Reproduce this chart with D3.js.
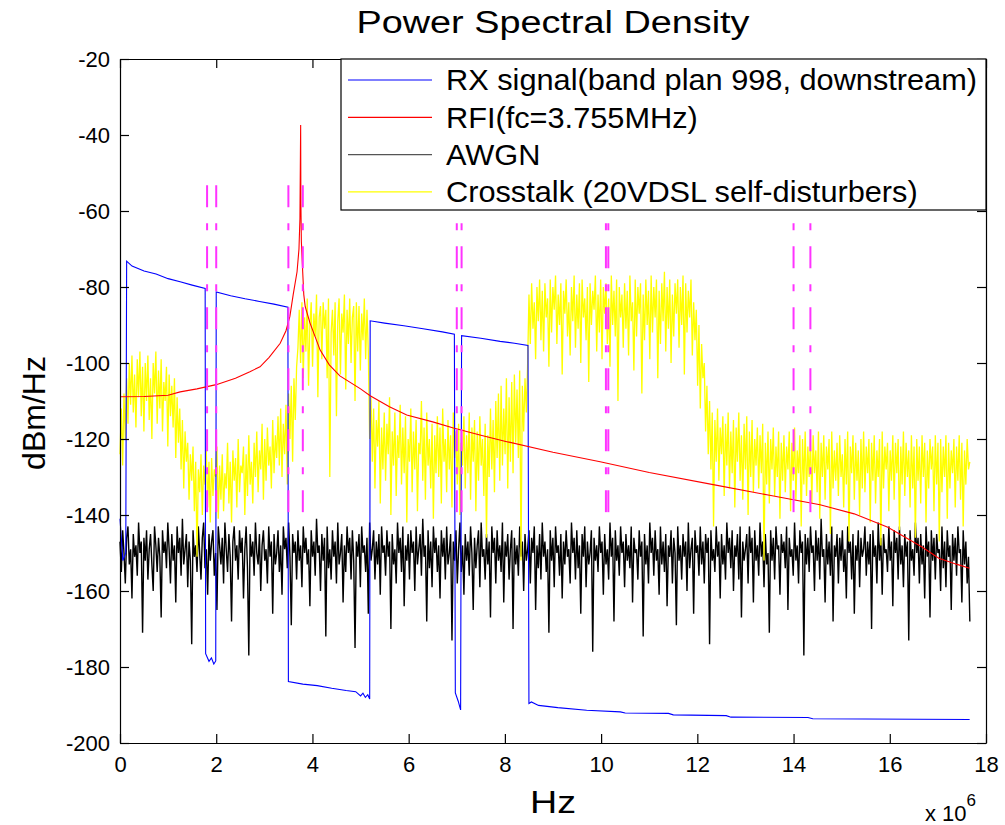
<!DOCTYPE html>
<html>
<head>
<meta charset="utf-8">
<script src="https://cdn.jsdelivr.net/npm/d3@7/dist/d3.min.js"></script>
<style>
  body { margin: 0; background: #fff; }
  text { font-family: "Liberation Sans", Arial, Helvetica, sans-serif; fill: #000; }
</style>
</head>
<body>
<svg width="1005" height="825"></svg>
<script>
// ---- data (frequency in MHz, PSD in dBm/Hz) ----
const xTicks = [0, 2, 4, 6, 8, 10, 12, 14, 16, 18];
const yTicks = [-20, -40, -60, -80, -100, -120, -140, -160, -180, -200];

// RX signal, band plan 998 downstream (with HAM notches)
const rxFreq = [0, 0.06, 0.12, 0.138, 0.25, 0.5, 0.75, 1.0, 1.25, 1.5, 1.77,
  1.78, 1.85, 1.9, 1.95, 1.99, 2.0, 2.3, 2.6, 2.9, 3.2, 3.49,
  3.5, 3.8, 4.1, 4.4, 4.7, 4.9, 5.0, 5.05, 5.1, 5.15, 5.19,
  5.2, 5.5, 5.9, 6.3, 6.7, 6.95, 6.97, 7.03, 7.08,
  7.1, 7.5, 7.9, 8.2, 8.48, 8.5, 8.55, 8.7, 9.1, 9.7, 10.4, 10.5, 11.4, 11.5, 12.6, 12.7, 14.3, 14.4, 17.66];
const rxPsd = [-141, -152, -150, -73.2, -74.5, -75.8, -76.6, -77.8, -78.6, -79.5, -80.4,
  -176.5, -178.5, -177.6, -179.2, -178.4, -81.3, -82.3, -83.1, -83.8, -84.5, -85.3,
  -183.8, -184.5, -184.9, -185.6, -186.2, -186.5, -187.6, -186.9, -188.0, -187.3, -188.4,
  -88.9, -89.5, -90.2, -91.0, -91.8, -92.4, -186.8, -189.0, -191.3,
  -92.8, -93.5, -94.3, -94.8, -95.4, -189.6, -189.2, -190.1, -190.7, -191.4, -191.8, -192.1, -192.2, -192.6, -192.8, -193.2, -193.3, -193.6, -193.8];

// RFI, fc = 3.755 MHz
const rfiFreq = [0, 0.5, 1.0, 1.25, 1.6, 2.0, 2.4, 2.7, 2.91, 3.1, 3.33, 3.45, 3.53, 3.6, 3.68, 3.72, 3.74, 3.75, 3.755,
  3.76, 3.77, 3.79, 3.82, 3.85, 3.95, 4.16, 4.35, 4.57, 5.0, 5.2, 5.6, 5.96, 6.5, 6.93, 7.5, 8.04, 9.0, 9.98,
  11.0, 12.33, 13.5, 14.55, 15.26, 15.96, 16.67, 17.02, 17.4, 17.66];
const rfiPsd = [-108.9, -108.8, -108.5, -107.6, -106.8, -105.7, -104.0, -102.3, -101.0, -98.5, -94.8, -91.5, -87.8, -82, -76, -70, -62, -45, -37.4,
  -58, -68, -74, -82, -85.2, -89.5, -96.6, -100.5, -103.4, -106.8, -108.6, -111.5, -113.7, -115.5, -117.1, -119, -120.7, -123.5, -126,
  -128.8, -132, -134.8, -137.3, -139.7, -143.2, -148.4, -151.4, -153, -154];

// AWGN and crosstalk, sampled on a uniform grid of 641 bins (0 .. 17.664 MHz)
const noiseStep = 17.664 / 640;
const awgnPsd = [
  -147,-155,-144,-150,-158,-146,-143,-153,-149,-162,-145,-151,-148,-156,-142,-150,-147,-171,-146,-152,
  -144,-157,-149,-145,-153,-160,-143,-148,-155,-146,-151,-167,-144,-150,-147,-154,-142,-149,-158,-145,
  -152,-148,-163,-143,-150,-146,-156,-141,-153,-149,-145,-159,-147,-152,-174,-144,-151,-148,-155,-143,
  -150,-157,-146,-142,-154,-149,-161,-145,-152,-147,-144,-156,-150,-165,-143,-148,-153,-146,-158,-142,
  -149,-155,-145,-151,-168,-147,-143,-152,-148,-157,-144,-150,-146,-162,-149,-143,-154,-177,-145,-151,
  -147,-156,-142,-150,-153,-145,-160,-148,-144,-152,-149,-158,-143,-151,-147,-166,-145,-153,-150,-144,
  -155,-148,-161,-143,-149,-146,-154,-142,-151,-169,-145,-150,-147,-157,-144,-152,-148,-159,-143,-150,
  -146,-153,-149,-164,-144,-151,-147,-156,-141,-150,-148,-160,-145,-152,-146,-172,-143,-154,-149,-157,
  -144,-151,-147,-158,-142,-153,-150,-145,-163,-148,-155,-143,-150,-146,-157,-144,-152,-175,-147,-151,
  -145,-159,-143,-150,-148,-155,-146,-166,-142,-152,-149,-144,-157,-147,-153,-145,-161,-143,-150,-148,
  -156,-144,-151,-147,-170,-145,-153,-149,-158,-142,-150,-146,-155,-143,-164,-148,-152,-145,-157,-144,
  -150,-147,-160,-143,-153,-149,-145,-156,-141,-151,-148,-168,-144,-154,-147,-159,-143,-150,-146,-155,
  -148,-162,-144,-151,-146,-157,-143,-153,-150,-145,-173,-147,-152,-144,-158,-149,-142,-155,-148,-161,
  -145,-152,-147,-156,-143,-150,-165,-146,-154,-148,-144,-159,-142,-151,-149,-157,-145,-153,-147,-167,
  -143,-150,-146,-158,-144,-152,-148,-155,-142,-163,-147,-151,-145,-157,-149,-144,-170,-146,-153,-148,
  -156,-143,-151,-147,-160,-145,-152,-149,-144,-158,-146,-150,-143,-165,-148,-154,-145,-157,-142,-151,
  -147,-155,-149,-171,-144,-152,-146,-159,-143,-150,-148,-156,-145,-162,-147,-153,-144,-151,-149,-158,
  -142,-150,-146,-157,-144,-154,-148,-166,-145,-151,-143,-159,-147,-153,-150,-144,-176,-146,-152,-148,
  -155,-143,-150,-147,-161,-145,-153,-149,-157,-142,-151,-146,-168,-144,-152,-148,-156,-143,-150,-147,
  -159,-145,-152,-148,-154,-143,-163,-146,-150,-149,-157,-144,-151,-147,-172,-145,-153,-148,-158,-142,
  -150,-146,-156,-144,-152,-149,-161,-143,-153,-147,-155,-145,-164,-148,-151,-144,-158,-146,-150,-169,
  -143,-152,-148,-157,-145,-151,-147,-160,-142,-154,-149,-146,-166,-144,-150,-148,-156,-143,-153,-147,
  -158,-145,-150,-146,-174,-144,-152,-149,-155,-143,-151,-147,-162,-145,-153,-148,-157,-142,-150,-146,
  -154,-144,-160,-148,-151,-145,-157,-143,-167,-147,-152,-149,-145,-158,-143,-150,-146,-163,-144,-152,
  -148,-156,-142,-151,-147,-159,-145,-153,-150,-171,-144,-152,-146,-157,-143,-149,-148,-161,-145,-150,
  -147,-154,-143,-165,-146,-151,-149,-156,-142,-152,-148,-158,-144,-150,-147,-177,-145,-153,-146,-155,
  -143,-150,-148,-160,-144,-152,-146,-157,-141,-151,-149,-163,-145,-153,-147,-156,-143,-168,-148,-151,
  -145,-158,-146,-152,-144,-155,-149,-162,-143,-150,-147,-157,-145,-166,-148,-152,-144,-159,-146,-151,
  -149,-143,-156,-147,-153,-145,-170,-144,-151,-148,-158,-142,-152,-146,-161,-145,-150,-149,-155,-143,
  -152,-147,-164,-144,-150,-146,-157,-143,-153,-148,-159,-145,-151,-147,-173,-144,-152,-149,-156,-142,
  -150,-146,-158,-145,-153,-148,-162,-143,-151,-147,-167,-144,-152,-146,-157,-145,-150,-149,-160,-143,
  -154,-147,-159,-144,-151,-148,-165,-145,-152,-146,-156,-143,-150,-149,-163,-144,-153,-147,-158,-151,
  -168];
const xtalkPsd = [
  -124,-112,-127,-108,-120,-104,-116,-100,-111,-98,-113,-103,-117,-99,-109,-97,-114,-101,-118,-100,
  -110,-98,-115,-104,-120,-100,-108,-97,-116,-102,-112,-99,-118,-105,-110,-101,-122,-103,-114,-106,
  -117,-104,-125,-109,-121,-112,-128,-115,-133,-118,-126,-121,-136,-124,-131,-122,-139,-126,-151,-128,
  -134,-124,-140,-127,-132,-123,-138,-126,-142,-125,-135,-128,-130,-122,-141,-127,-136,-124,-139,-129,
  -133,-121,-137,-126,-142,-123,-131,-125,-138,-120,-134,-127,-129,-122,-140,-124,-135,-119,-132,-126,
  -137,-121,-130,-118,-134,-123,-128,-116,-136,-120,-131,-117,-127,-122,-133,-115,-129,-119,-125,-114,
  -127,-112,-130,-116,-124,-111,-132,-108,-120,-106,-126,-104,-115,-101,-96,-86,-100,-84,-104,-88,
  -97,-83,-106,-90,-84,-101,-87,-93,-82,-109,-88,-85,-99,-84,-91,-86,-104,-83,-130,-92,
  -86,-98,-84,-114,-89,-83,-103,-87,-92,-82,-107,-86,-95,-83,-100,-88,-85,-110,-84,-97,
  -85,-102,-87,-94,-83,-99,-86,-97,-120,-109,-126,-112,-133,-115,-122,-110,-137,-117,-128,-113,
  -131,-116,-124,-109,-140,-118,-127,-113,-135,-119,-125,-111,-132,-117,-129,-114,-142,-120,-126,-112,
  -134,-118,-128,-115,-139,-121,-124,-110,-131,-117,-136,-113,-127,-120,-133,-116,-141,-119,-129,-114,
  -130,-117,-137,-112,-126,-120,-134,-115,-128,-119,-138,-113,-125,-118,-132,-116,-140,-121,-127,-114,
  -133,-119,-129,-113,-136,-117,-126,-115,-139,-118,-131,-114,-127,-120,-135,-116,-146,-119,-130,-112,
  -128,-115,-134,-110,-125,-108,-131,-106,-127,-112,-124,-104,-133,-109,-126,-105,-129,-103,-121,-107,
  -125,-102,-152,-106,-118,-104,-113,-100,-82,-95,-79,-91,-84,-99,-80,-89,-78,-94,-81,-97,
  -79,-88,-83,-101,-78,-92,-80,-86,-77,-95,-82,-90,-79,-103,-81,-87,-78,-93,-84,-98,
  -80,-89,-77,-96,-82,-91,-79,-100,-78,-88,-83,-94,-80,-105,-79,-90,-81,-86,-77,-97,
  -82,-92,-78,-99,-80,-87,-79,-95,-83,-101,-77,-90,-81,-93,-78,-110,-80,-88,-82,-96,
  -79,-91,-81,-98,-77,-89,-84,-102,-78,-93,-80,-87,-79,-108,-82,-94,-78,-90,-81,-99,
  -77,-92,-80,-88,-78,-104,-81,-95,-79,-89,-76,-97,-80,-91,-78,-100,-82,-93,-79,-87,
  -78,-96,-80,-90,-77,-103,-79,-92,-81,-88,-78,-98,-84,-94,-86,-106,-90,-112,-95,-104,
  -100,-118,-106,-124,-110,-128,-113,-143,-115,-126,-112,-131,-117,-124,-114,-135,-116,-127,-113,-133,
  -118,-129,-115,-138,-117,-126,-113,-131,-119,-136,-116,-128,-114,-140,-118,-130,-115,-134,-120,-127,
  -117,-133,-119,-129,-116,-152,-121,-132,-118,-137,-120,-128,-117,-135,-122,-130,-118,-141,-121,-131,
  -119,-134,-122,-128,-118,-139,-121,-131,-117,-136,-123,-129,-119,-143,-120,-132,-118,-135,-122,-130,
  -120,-137,-119,-129,-123,-134,-118,-141,-121,-130,-119,-136,-122,-128,-120,-145,-118,-133,-123,-131,
  -121,-135,-119,-130,-124,-138,-120,-132,-118,-147,-122,-129,-119,-136,-121,-131,-123,-140,-120,-133,
  -118,-134,-122,-129,-120,-142,-121,-131,-119,-137,-123,-130,-120,-148,-118,-133,-122,-128,-121,-139,
  -123,-131,-119,-136,-121,-129,-120,-144,-122,-132,-118,-135,-121,-130,-123,-138,-119,-133,-122,-146,
  -120,-131,-122,-137,-119,-130,-121,-142,-123,-133,-120,-128,-122,-139,-119,-132,-121,-147,-120,-134,
  -122,-130,-119,-141,-121,-133,-123,-129,-120,-138,-122,-131,-119,-136,-121,-143,-123,-132,-120,-128,
  -126];

// amateur radio band edges (MHz), marked as dash-dot lines
const hamEdges = [1.81, 2.0, 3.5, 3.8, 7.0, 7.1, 10.1, 10.15, 14.0, 14.35];
const hamRange = [-53.2, -140];

const legendLabels = ['RX signal(band plan 998, downstream)', 'RFI(fc=3.755MHz)', 'AWGN',
  'Crosstalk (20VDSL self-disturbers)'];

// ---- chart ----
const svg = d3.select('svg');
const plotL = 120, plotR = 986, plotT = 59, plotB = 743;

const x = d3.scaleLinear().domain([0, 18]).range([plotL, plotR]);
const y = d3.scaleLinear().domain([-200, -20]).range([plotB, plotT]);

const rxLine = d3.line().x((d, i) => x(rxFreq[i])).y(d => y(d));
const rfiLine = d3.line().x((d, i) => x(rfiFreq[i])).y(d => y(d));
const noiseLine = d3.line().x((d, i) => x(i * noiseStep)).y(d => y(d));

const plot = svg.append('g').attr('fill', 'none').attr('stroke-width', 1.1);

// AWGN
plot.append('path').attr('d', noiseLine(awgnPsd)).attr('stroke', '#000').attr('stroke-width', 1.4);
// crosstalk
plot.append('path').attr('d', noiseLine(xtalkPsd)).attr('stroke', '#ffff00').attr('stroke-width', 1.3);
// RX signal
plot.append('path').attr('d', rxLine(rxPsd)).attr('stroke', '#0000ff');
// RFI
plot.append('path').attr('d', rfiLine(rfiPsd)).attr('stroke', '#ff0000');

// HAM band markers
plot.selectAll('line.ham')
  .data(hamEdges)
  .join('line')
    .attr('class', 'ham')
    .attr('x1', d => x(d)).attr('x2', d => x(d))
    .attr('y1', y(hamRange[0])).attr('y2', y(hamRange[1]))
    .attr('stroke', '#ff33ff')
    .attr('stroke-width', 2)
    .attr('stroke-dasharray', '22,16,7,16');

// axes, inward ticks on all four sides
const fmt = d => String(d);
const gx = svg.append('g').attr('transform', `translate(0,${plotB})`)
    .call(d3.axisBottom(x).tickValues(xTicks).tickSize(-9).tickSizeOuter(0).tickPadding(13).tickFormat(fmt));
const gy = svg.append('g').attr('transform', `translate(${plotL},0)`)
    .call(d3.axisLeft(y).tickValues(yTicks).tickSize(-9).tickSizeOuter(0).tickPadding(10).tickFormat(fmt));
const gt = svg.append('g').attr('transform', `translate(0,${plotT})`)
    .call(d3.axisTop(x).tickValues(xTicks).tickSize(-9).tickSizeOuter(0).tickFormat(''));
const gr = svg.append('g').attr('transform', `translate(${plotR},0)`)
    .call(d3.axisRight(y).tickValues(yTicks).tickSize(-9).tickSizeOuter(0).tickFormat(''));

[gx, gy, gt, gr].forEach(g => {
  g.attr('font-family', null).attr('font-size', 22);
  g.selectAll('path, line').attr('stroke', '#000').attr('stroke-width', 1.2);
});

// legend
const lg = svg.append('g');
lg.append('rect')
    .attr('x', 341).attr('y', plotT)
    .attr('width', plotR - 341).attr('height', 151)
    .attr('fill', '#fff').attr('stroke', '#000').attr('stroke-width', 1.2);

const legendColors = ['#0000ff', '#ff0000', '#555', '#ffff00'];
const rows = lg.selectAll('g.row')
  .data(legendLabels)
  .join('g')
    .attr('class', 'row')
    .attr('transform', (d, i) => `translate(0,${80 + i * 37.3})`);
rows.append('line')
    .attr('x1', 348).attr('x2', 432)
    .attr('stroke', (d, i) => legendColors[i])
    .attr('stroke-width', 1.2);
const lt = rows.append('text')
    .attr('x', 446).attr('dy', '0.36em')
    .attr('font-size', 29)
    .text(d => d);
// stretch legend text to the reference width
const stretch = 531 / lt.node().getComputedTextLength();
lt.each(function () {
  const w = this.getComputedTextLength();
  d3.select(this).attr('textLength', w * stretch).attr('lengthAdjust', 'spacingAndGlyphs');
});

// title and labels
svg.append('text')
    .attr('x', (plotL + plotR) / 2).attr('y', 33)
    .attr('text-anchor', 'middle')
    .attr('font-size', 31)
    .attr('textLength', 393).attr('lengthAdjust', 'spacingAndGlyphs')
    .text('Power Spectral Density');

svg.append('text')
    .attr('x', (plotL + plotR) / 2).attr('y', 813)
    .attr('text-anchor', 'middle')
    .attr('font-size', 31)
    .attr('textLength', 46).attr('lengthAdjust', 'spacingAndGlyphs')
    .text('Hz');

svg.append('text')
    .attr('transform', `translate(45,${(plotT + plotB) / 2 + 12}) rotate(-90)`)
    .attr('text-anchor', 'middle')
    .attr('font-size', 32)
    .text('dBm/Hz');

// x 10^6 exponent
const ex = svg.append('text').attr('x', 925).attr('y', 821).attr('font-size', 22);
ex.append('tspan').text('x 10');
ex.append('tspan').attr('dy', -15).attr('font-size', 17).text('6');
</script>
</body>
</html>
